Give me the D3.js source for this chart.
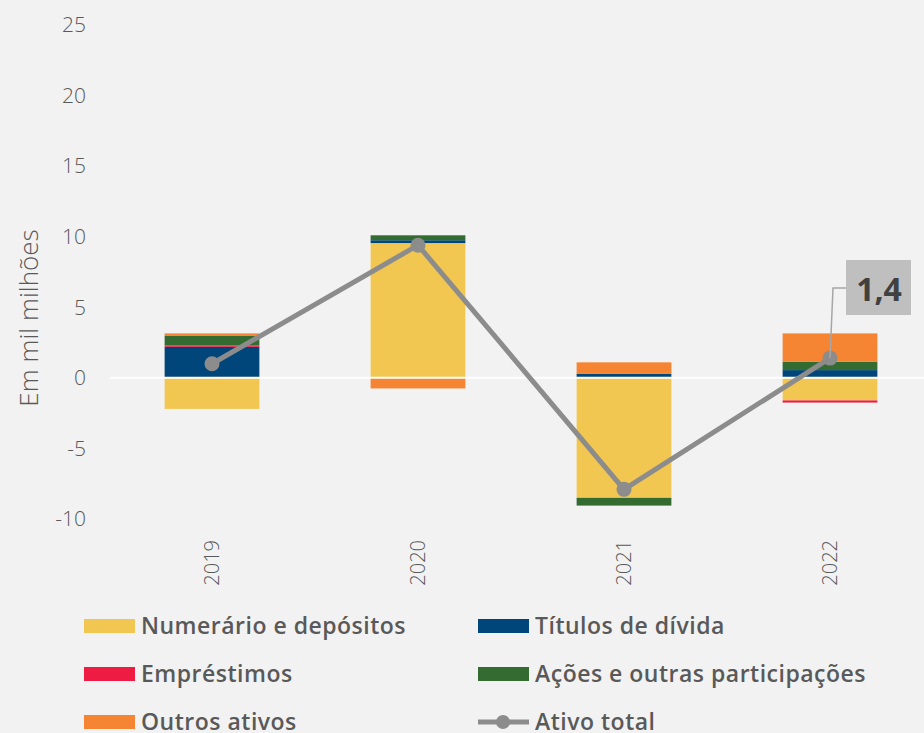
<!DOCTYPE html>
<html>
<head>
<meta charset="utf-8">
<script src="https://cdn.jsdelivr.net/npm/d3@7"></script>
<style>
  body { margin: 0; background: #f2f2f2; }
  svg { display: block; }
</style>
</head>
<body>
<script>
// data (mil milhões)
var years = ["2019", "2020", "2021", "2022"];
var seriesNames = ["Numerário e depósitos", "Títulos de dívida", "Empréstimos", "Ações e outras participações", "Outros ativos"];
var numerario = [-2.2, 9.55, -8.5, -1.6];
var titulos = [2.2, 0.2, 0.3, 0.55];
var emprestimos = [0.1, 0, 0, -0.15];
var acoes = [0.7, 0.35, -0.55, 0.6];
var outros = [0.15, -0.75, 0.8, 2.0];
var ativoTotal = [1.0, 9.4, -7.9, 1.4];
var yTicks = [-10, -5, 0, 5, 10, 15, 20, 25];
var colors = ["#f2c751", "#00467a", "#ee1b42", "#336b31", "#f58433"];

var w = 924, h = 733;
var svg = d3.select("body").append("svg").attr("width", w).attr("height", h);
svg.append("rect").attr("width", w).attr("height", h).attr("fill", "#f2f2f2");

var xScale = d3.scaleBand().domain(years).range([109, 933]).paddingInner(0.54).paddingOuter(0.27);
var yScale = d3.scaleLinear().domain([-10, 25]).range([519, 25]);

// build rows for the stack
var rows = years.map(function(y, i) {
  return { year: y, s0: numerario[i], s1: titulos[i], s2: emprestimos[i], s3: acoes[i], s4: outros[i] };
});
var stack = d3.stack().keys(["s0", "s1", "s2", "s3", "s4"]).offset(d3.stackOffsetDiverging);
var layers = stack(rows);

// y tick labels
svg.selectAll(".ytick")
  .data(yTicks)
  .enter()
  .append("text")
  .attr("x", 86)
  .attr("y", function(d) { return yScale(d); })
  .attr("dy", "0.35em")
  .attr("text-anchor", "end")
  .attr("font-family", "Open Sans")
  .attr("font-weight", 300)
  .attr("font-size", "21px")
  .attr("fill", "#595959")
  .text(function(d) { return d; });

svg.append("text")
  .attr("transform", "translate(38," + 318 + ") rotate(-90)")
  .attr("text-anchor", "middle")
  .attr("font-family", "Open Sans")
  .attr("font-weight", 300)
  .attr("font-size", "26px")
  .attr("fill", "#595959")
  .text("Em mil milhões");

// bars
svg.selectAll(".layer")
  .data(layers)
  .enter()
  .append("g")
  .attr("fill", function(d, i) { return colors[i]; })
  .selectAll("rect")
  .data(function(d) { return d; })
  .enter()
  .append("rect")
  .attr("x", function(d) { return xScale(d.data.year); })
  .attr("width", xScale.bandwidth())
  .attr("y", function(d) { return yScale(d[1]); })
  .attr("height", function(d) { return yScale(d[0]) - yScale(d[1]); });

// zero line
svg.append("line")
  .attr("x1", 110).attr("x2", w)
  .attr("y1", yScale(0)).attr("y2", yScale(0))
  .attr("stroke", "#ffffff")
  .attr("stroke-width", 2);

// x labels
svg.selectAll(".xtick")
  .data(years)
  .enter()
  .append("text")
  .attr("transform", function(d) {
    return "translate(" + (xScale(d) + xScale.bandwidth() / 2) + ",540) rotate(-90)";
  })
  .attr("dy", "0.35em")
  .attr("text-anchor", "end")
  .attr("font-family", "Open Sans")
  .attr("font-weight", 300)
  .attr("font-size", "20px")
  .attr("fill", "#595959")
  .text(function(d) { return d; });

// total line
var line = d3.line()
  .x(function(d, i) { return xScale(years[i]) + xScale.bandwidth() / 2; })
  .y(function(d) { return yScale(d); });
svg.append("path")
  .datum(ativoTotal)
  .attr("d", line)
  .attr("fill", "none")
  .attr("stroke", "#8c8c8c")
  .attr("stroke-width", 5);
svg.selectAll(".dot")
  .data(ativoTotal)
  .enter()
  .append("circle")
  .attr("cx", function(d, i) { return xScale(years[i]) + xScale.bandwidth() / 2; })
  .attr("cy", function(d) { return yScale(d); })
  .attr("r", 7.5)
  .attr("fill", "#8c8c8c");

// callout for last value
var lx = xScale(years[3]) + xScale.bandwidth() / 2, ly = yScale(ativoTotal[3]);
svg.append("polyline")
  .attr("points", lx + "," + ly + " " + (lx + 3) + ",288 846,288")
  .attr("fill", "none")
  .attr("stroke", "#a6a6a6")
  .attr("stroke-width", 1.5);
svg.append("rect")
  .attr("x", 846).attr("y", 260).attr("width", 65).attr("height", 55)
  .attr("fill", "#bfbfbf");
svg.append("text")
  .attr("x", 879).attr("y", 290)
  .attr("dy", "0.35em")
  .attr("text-anchor", "middle")
  .attr("font-family", "Open Sans")
  .attr("font-weight", 700)
  .attr("font-size", "32px")
  .attr("fill", "#404040")
  .text(ativoTotal[3].toFixed(1).replace(".", ","));

// legend
var legendItems = seriesNames.map(function(n, i) { return { name: n, color: colors[i], type: "bar" }; });
legendItems.push({ name: "Ativo total", color: "#8c8c8c", type: "line" });
var lg = svg.selectAll(".leg")
  .data(legendItems)
  .enter()
  .append("g")
  .attr("transform", function(d, i) {
    return "translate(" + (i % 2 === 0 ? 84 : 478) + "," + (626 + Math.floor(i / 2) * 48) + ")";
  });
lg.filter(function(d) { return d.type === "bar"; })
  .append("rect")
  .attr("x", 0).attr("y", -7).attr("width", 51).attr("height", 14)
  .attr("fill", function(d) { return d.color; });
lg.filter(function(d) { return d.type === "line"; })
  .append("line")
  .attr("x1", 0).attr("x2", 51).attr("y1", 0).attr("y2", 0)
  .attr("stroke", "#8c8c8c").attr("stroke-width", 5);
lg.filter(function(d) { return d.type === "line"; })
  .append("circle")
  .attr("cx", 25).attr("cy", 0).attr("r", 7)
  .attr("fill", "#8c8c8c");
lg.append("text")
  .attr("x", 57)
  .attr("dy", "0.35em")
  .attr("font-family", "Open Sans")
  .attr("font-weight", 600)
  .attr("font-size", "23px")
  .attr("letter-spacing", "0.5px")
  .attr("fill", "#595959")
  .text(function(d) { return d.name; });
</script>
</body>
</html>
